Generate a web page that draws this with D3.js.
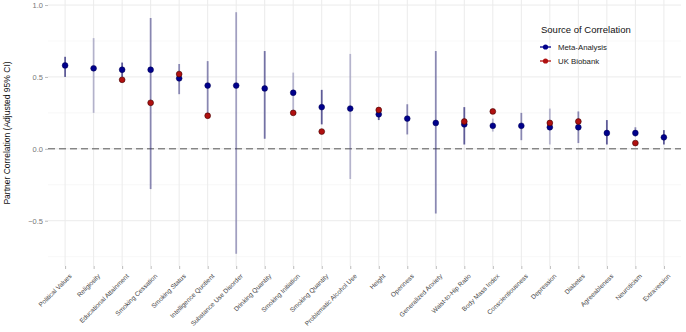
<!DOCTYPE html>
<html><head><meta charset="utf-8">
<script src="https://cdn.jsdelivr.net/npm/d3@7"></script>
<style>body{margin:0;background:#fff}svg{display:block}text{font-family:"Liberation Sans",Arial,sans-serif}</style>
</head><body><svg id="c" width="686" height="332"></svg>
<script>
const categories = ["Political Values","Religiosity","Educational Attainment","Smoking Cessation","Smoking Status","Intelligence Quotient","Substance Use Disorder","Drinking Quantity","Smoking Initiation","Smoking Quantity","Problematic Alcohol Use","Height","Openness","Generalized Anxiety","Waist-to-Hip Ratio","Body Mass Index","Conscientiousness","Depression","Diabetes","Agreeableness","Neuroticism","Extraversion"];
const metaEstimate = [0.58,0.56,0.55,0.55,0.49,0.44,0.44,0.42,0.39,0.29,0.28,0.24,0.21,0.18,0.17,0.16,0.16,0.15,0.15,0.11,0.11,0.08];
const ciLower = [0.50,0.25,0.50,-0.28,0.38,0.25,-0.73,0.07,0.26,0.17,-0.21,0.20,0.10,-0.45,0.03,0.12,0.06,0.03,0.04,0.03,0.085,0.03];
const ciUpper = [0.64,0.77,0.60,0.91,0.59,0.61,0.95,0.68,0.53,0.41,0.66,0.27,0.31,0.68,0.29,0.21,0.25,0.28,0.26,0.20,0.15,0.13];
const ciWeight = [3,1,3,2,2,2,1.5,2.5,1,3,1,3,2,2,3,1,2,1,2,3,2,3];
const biobankEstimate = [null,null,0.48,0.32,0.52,0.23,null,null,0.25,0.12,null,0.27,null,null,0.19,0.26,null,0.18,0.19,null,0.04,null];
const yTicks = [-0.5,0,0.5,1.0];
const yMinor = [-0.75,-0.25,0.25,0.75];
const legendLabels = ["Meta-Analysis","UK Biobank"];

const svg = d3.select("#c");
const L = 48, R = 681, T = 0, B = 266;
const x = d3.scalePoint().domain(categories).range([L, R]).padding(0.6);
const y = d3.scaleLinear().domain([-0.815, 1.035]).range([B, T]);
const alpha = d3.scaleLinear().domain([1,3]).range([0.3,0.75]);
const blue = "#00008B", red = "#B01010", lineCol = "#2E2A7A";

const g = svg.append("g");
g.selectAll(".mn").data(yMinor).join("line").attr("x1",L).attr("x2",R)
  .attr("y1",d=>y(d)).attr("y2",d=>y(d)).attr("stroke","#f3f3f3").attr("stroke-width",0.6);
g.selectAll(".mj").data(yTicks).join("line").attr("x1",L).attr("x2",R)
  .attr("y1",d=>y(d)).attr("y2",d=>y(d)).attr("stroke","#ebebeb").attr("stroke-width",1);
g.selectAll(".vg").data(categories).join("line").attr("x1",d=>x(d)).attr("x2",d=>x(d))
  .attr("y1",T).attr("y2",B).attr("stroke","#ebebeb").attr("stroke-width",1);
g.append("line").attr("x1",L).attr("x2",R).attr("y1",y(0)).attr("y2",y(0))
  .attr("stroke","#555").attr("stroke-width",1).attr("stroke-dasharray","7,4");

const yAxis = d3.axisLeft(y).tickValues(yTicks).tickSize(3).tickPadding(2);
const ya = svg.append("g").attr("transform",`translate(${L},0)`).call(yAxis);
ya.select(".domain").remove();
ya.selectAll(".tick line").attr("stroke","#bbb");
ya.selectAll("text").attr("fill","#777").attr("font-size",7.5).text(d=>d<0?"\u2212"+Math.abs(d).toFixed(1):d.toFixed(1));

const xAxis = d3.axisBottom(x).tickSize(3).tickPadding(2);
const xa = svg.append("g").attr("transform",`translate(0,${B})`).call(xAxis);
xa.select(".domain").remove();
xa.selectAll(".tick line").attr("stroke","#bbb");
xa.selectAll("text").attr("fill","#444").attr("font-size",6.5)
  .attr("text-anchor","end").attr("dy",0).attr("dx",0)
  .attr("transform","translate(3,7) rotate(-45)");

svg.append("text").attr("transform",`translate(10,${(T+B)/2}) rotate(-90)`)
  .attr("text-anchor","middle").attr("font-size",8.5).attr("fill","#111")
  .text("Partner Correlation (Adjusted 95% CI)");

const idx = d3.range(categories.length);
g.selectAll(".ci").data(idx).join("line")
  .attr("x1",i=>x(categories[i])).attr("x2",i=>x(categories[i]))
  .attr("y1",i=>y(ciLower[i])).attr("y2",i=>y(ciUpper[i]))
  .attr("stroke",lineCol).attr("stroke-opacity",i=>alpha(ciWeight[i])).attr("stroke-width",1.8);
g.selectAll(".pm").data(idx).join("circle")
  .attr("cx",i=>x(categories[i])).attr("cy",i=>y(metaEstimate[i])).attr("r",2.9)
  .attr("fill",blue).attr("stroke","#000050").attr("stroke-width",0.5);
g.selectAll(".pb").data(idx.filter(i=>biobankEstimate[i]!==null)).join("circle")
  .attr("cx",i=>x(categories[i])).attr("cy",i=>y(biobankEstimate[i])).attr("r",2.9)
  .attr("fill",red).attr("stroke","#400000").attr("stroke-width",0.6);

const lg = svg.append("g");
lg.append("text").attr("x",541).attr("y",33).attr("font-size",9.5).attr("fill","#111").text("Source of Correlation");
const cols = [blue, red];
legendLabels.forEach((t,i)=>{
  const yy = 47 + i*14;
  lg.append("line").attr("x1",540).attr("x2",551).attr("y1",yy).attr("y2",yy).attr("stroke",cols[i]).attr("stroke-width",1.3);
  lg.append("circle").attr("cx",545.5).attr("cy",yy).attr("r",2.6).attr("fill",cols[i]);
  lg.append("text").attr("x",558).attr("y",yy+3).attr("font-size",7.8).attr("fill","#222").text(t);
});
</script></body></html>
